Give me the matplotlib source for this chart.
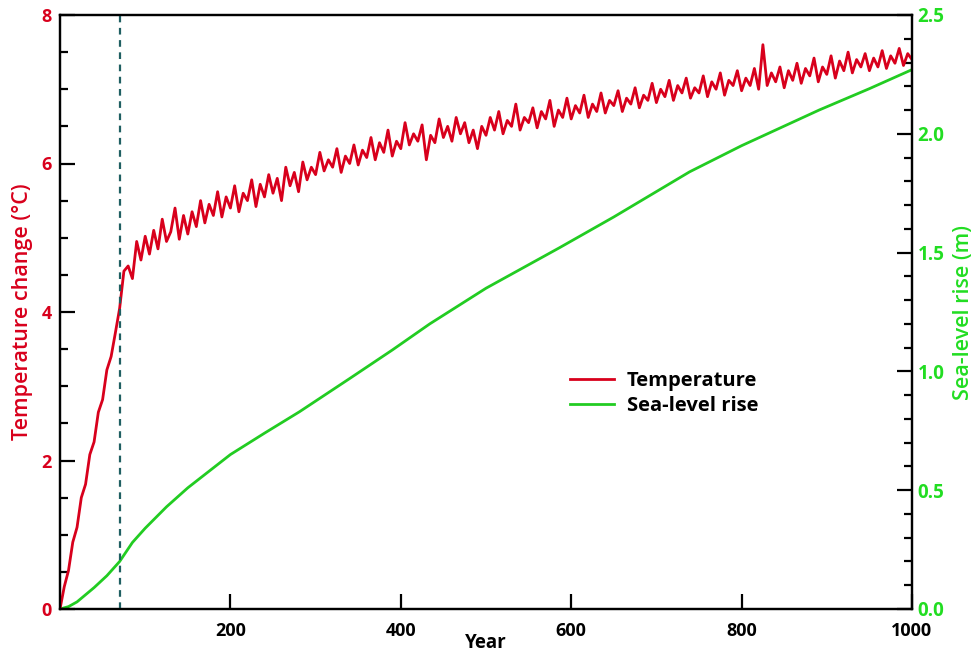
import numpy as np
import matplotlib
matplotlib.use("Agg")
import matplotlib.pyplot as plt
from matplotlib.ticker import MultipleLocator, FixedLocator

# Temperature change, read every 5 years from year 0 to 1000
temp_years = np.arange(0, 1001, 5)
temp_change = [
    0.00, 0.30, 0.52, 0.90, 1.10, 1.50, 1.68, 2.08, 2.25, 2.65,
    2.82, 3.22, 3.40, 3.72, 4.05, 4.55, 4.62, 4.45, 4.95, 4.70,
    5.02, 4.78, 5.10, 4.85, 5.25, 4.95, 5.08, 5.40, 4.98, 5.30,
    5.05, 5.35, 5.15, 5.50, 5.20, 5.45, 5.30, 5.62, 5.28, 5.55,
    5.40, 5.70, 5.35, 5.60, 5.50, 5.78, 5.42, 5.72, 5.55, 5.85,
    5.60, 5.80, 5.50, 5.95, 5.70, 5.88, 5.62, 6.02, 5.78, 5.95,
    5.85, 6.15, 5.90, 6.05, 5.95, 6.20, 5.88, 6.10, 6.00, 6.25,
    5.98, 6.18, 6.08, 6.35, 6.05, 6.28, 6.15, 6.45, 6.10, 6.30,
    6.20, 6.55, 6.25, 6.40, 6.30, 6.52, 6.05, 6.38, 6.28, 6.60,
    6.35, 6.50, 6.30, 6.62, 6.40, 6.55, 6.28, 6.45, 6.20, 6.50,
    6.38, 6.62, 6.45, 6.70, 6.40, 6.58, 6.50, 6.80, 6.45, 6.62,
    6.55, 6.75, 6.48, 6.70, 6.60, 6.85, 6.50, 6.72, 6.62, 6.88,
    6.60, 6.78, 6.68, 6.92, 6.62, 6.80, 6.70, 6.95, 6.68, 6.85,
    6.78, 6.98, 6.70, 6.88, 6.80, 7.02, 6.75, 6.92, 6.85, 7.08,
    6.82, 7.00, 6.90, 7.12, 6.85, 7.05, 6.95, 7.15, 6.88, 7.02,
    6.95, 7.18, 6.90, 7.10, 7.00, 7.22, 6.92, 7.12, 7.05, 7.25,
    6.98, 7.15, 7.05, 7.28, 7.00, 7.60, 7.05, 7.22, 7.10, 7.30,
    7.02, 7.25, 7.12, 7.35, 7.08, 7.28, 7.18, 7.42, 7.10, 7.30,
    7.20, 7.45, 7.15, 7.38, 7.25, 7.50, 7.22, 7.40, 7.30, 7.48,
    7.25, 7.42, 7.30, 7.52, 7.28, 7.45, 7.35, 7.55, 7.32, 7.48,
    7.40,
]

# Sea-level rise (m)
sea_years = [0, 10, 20, 30, 40, 55, 70, 85, 100, 125, 150, 175, 200, 240,
             281, 340, 390, 434, 500, 586, 650, 739, 800, 891, 950, 1000]
sea_rise = [0.00, 0.01, 0.03, 0.06, 0.09, 0.14, 0.20, 0.28, 0.34, 0.43, 0.51,
            0.58, 0.65, 0.74, 0.83, 0.97, 1.09, 1.20, 1.35, 1.52, 1.65, 1.84,
            1.95, 2.10, 2.19, 2.27]

marker_year = 70

RED = "#d8001c"
GREEN = "#22cc22"
GREEN_TXT = "#22dd22"
FONT = "Open Sans"

fig = plt.figure(figsize=(9.78, 6.55), dpi=100)
ax = fig.add_axes([60 / 978, 1 - 609 / 655, 852 / 978, 594 / 655])
ax2 = ax.twinx()

l1, = ax.plot(temp_years, temp_change, color=RED, lw=2.0, label="Temperature")
ax.axvline(marker_year, color="#1f5f62", lw=1.6, ls=(0, (3, 2.5)))
l2, = ax2.plot(sea_years, sea_rise, color=GREEN, lw=2.0, label="Sea-level rise")

ax.set_xlim(0, 1000)
ax.set_ylim(0, 8)
ax2.set_ylim(0, 2.5)

ax.xaxis.set_major_locator(FixedLocator([200, 400, 600, 800, 1000]))
ax.yaxis.set_major_locator(MultipleLocator(2))
ax.yaxis.set_minor_locator(MultipleLocator(0.5))
ax2.set_yticks(np.arange(0, 2.51, 0.5))
ax2.set_yticklabels([f"{v:.1f}" for v in np.arange(0, 2.51, 0.5)])
ax2.yaxis.set_minor_locator(MultipleLocator(0.1))

for a in (ax, ax2):
    for s in a.spines.values():
        s.set_linewidth(1.6)
        s.set_color("black")

ax.tick_params(axis="both", which="major", direction="in", length=11, width=1.6,
               labelsize=13)
ax.tick_params(axis="y", which="minor", direction="in", length=6, width=1.6)
ax.tick_params(axis="y", labelcolor=RED, pad=6)
ax.tick_params(axis="x", pad=9)
ax2.tick_params(axis="y", which="major", direction="in", length=11, width=1.6,
                labelsize=13.5, labelcolor=GREEN_TXT, pad=4)
ax2.tick_params(axis="y", which="minor", direction="in", length=6, width=1.6)

for lab in ax.get_xticklabels() + ax.get_yticklabels() + ax2.get_yticklabels():
    lab.set_fontfamily(FONT)
    lab.set_fontweight("bold")

ax.set_xlabel("Year", fontsize=13.5, fontweight="bold", family=FONT, labelpad=-5)
ax.set_ylabel("Temperature change (°C)", fontsize=15.5, color=RED, family=FONT,
              fontweight="semibold", labelpad=6)
ax2.set_ylabel("Sea-level rise (m)", fontsize=15.5, color=GREEN_TXT, family=FONT,
               fontweight="semibold", labelpad=6)

leg = ax.legend(handles=[l1, l2], loc="center", bbox_to_anchor=(0.709, 0.362),
                frameon=False, handlelength=2.2, handletextpad=0.6,
                labelspacing=0.25, prop={"family": FONT, "weight": "bold", "size": 14.5})
ax.set_zorder(ax2.get_zorder() + 1)
ax.patch.set_visible(False)

fig.savefig("out.png", dpi=100)
